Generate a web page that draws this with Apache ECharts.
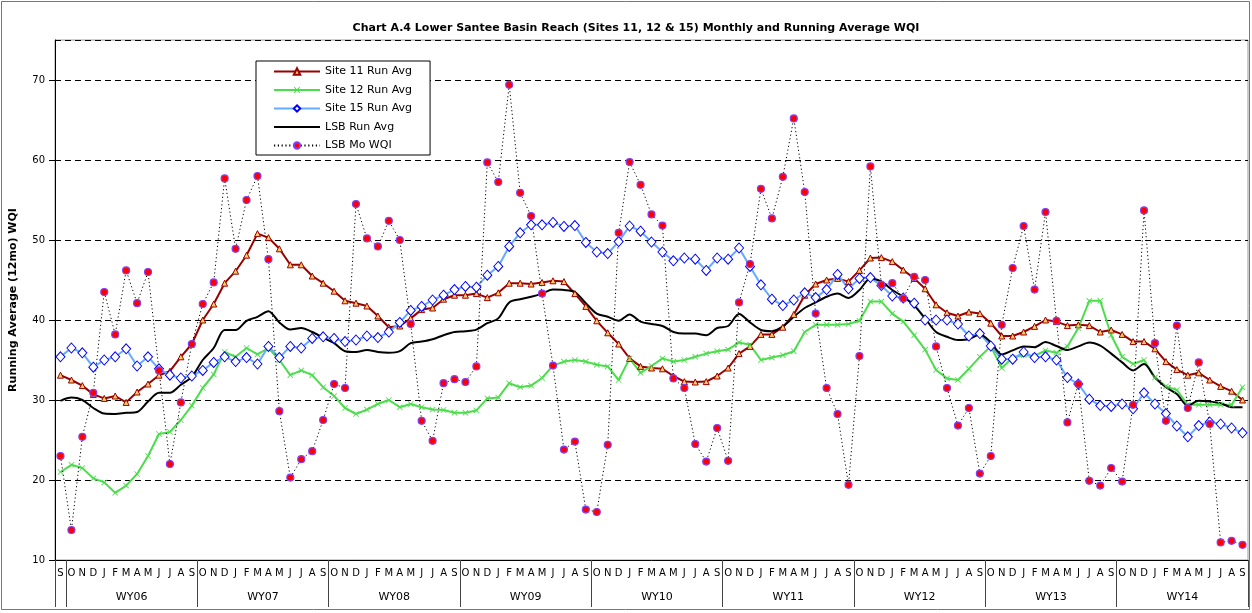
<!DOCTYPE html>
<html lang="en">
<head>
    <meta charset="UTF-8">
    <title>Chart A.4 Lower Santee Basin Reach</title>
    <style>
        html, body { margin: 0; padding: 0; background: #fff; }
        #container { width: 1252px; height: 613px; }
    </style>
</head>
<body>
    <div id="container"></div>
    <script src="https://cdnjs.cloudflare.com/ajax/libs/echarts/6.0.0/echarts.min.js"></script>
    <script>
        // month letters of a water year (Oct..Sep), and the year labels
        var monthLetters = ['O', 'N', 'D', 'J', 'F', 'M', 'A', 'M', 'J', 'J', 'A', 'S'];
        var waterYears = ['WY06', 'WY07', 'WY08', 'WY09', 'WY10', 'WY11', 'WY12', 'WY13', 'WY14'];

        // first category is Sep 2005, then 9 full water years
        var months = ['S'];
        waterYears.forEach(function () { months = months.concat(monthLetters); });

        var site11 = [33.1, 32.5, 31.8, 30.7, 30.2, 30.5, 29.7, 31.0, 32.0, 33.1, 33.6, 35.4, 37.0,
            40.0, 42.0, 44.6, 46.1, 48.1, 50.8, 50.3, 48.9, 46.9, 46.9, 45.5, 44.6,
            43.6, 42.4, 42.1, 41.75, 40.5, 39.1, 39.25, 40.2, 41.3, 41.5, 42.6, 43.1,
            43.1, 43.3, 42.8, 43.4, 44.6, 44.6, 44.5, 44.7, 44.9, 44.8, 43.3, 41.7,
            39.9, 38.4, 37.0, 35.2, 34.2, 34.0, 33.9, 33.0, 32.3, 32.25, 32.3, 33.0,
            34.0, 35.8, 36.7, 38.2, 38.2, 39.1, 40.7, 43.1, 44.5, 45.0, 45.2, 44.8,
            46.2, 47.75, 47.8, 47.3, 46.25, 45.2, 43.9, 41.9, 40.9, 40.5, 41.0, 40.8,
            39.6, 38.0, 38.0, 38.5, 39.2, 40.0, 39.8, 39.3, 39.4, 39.3, 38.5, 38.75,
            38.2, 37.3, 37.3, 36.4, 34.8, 33.8, 33.1, 33.4, 32.5, 31.7, 31.1, 30.0];

        var site12 = [21.0, 21.9, 21.5, 20.2, 19.7, 18.4, 19.3, 20.75, 23.0, 25.75, 26.0, 27.5, 29.3,
            31.5, 33.2, 36.0, 35.4, 36.5, 35.7, 36.5, 35.0, 33.1, 33.7, 33.1, 31.6,
            30.5, 29.0, 28.25, 28.8, 29.5, 30.0, 29.1, 29.5, 29.1, 28.8, 28.75, 28.4,
            28.4, 28.7, 30.2, 30.3, 32.1, 31.6, 31.8, 32.75, 34.3, 34.8, 35.0, 34.8,
            34.4, 34.2, 32.5, 35.2, 33.4, 34.25, 35.2, 34.8, 35.0, 35.4, 35.8, 36.1,
            36.3, 37.2, 36.9, 35.0, 35.3, 35.6, 36.1, 38.5, 39.4, 39.4, 39.4, 39.5,
            39.9, 42.3, 42.3, 40.8, 39.8, 38.1, 36.3, 33.75, 32.7, 32.5, 33.9, 35.4,
            36.7, 34.0, 35.3, 35.6, 35.5, 36.2, 35.9, 36.7, 39.0, 42.4, 42.4, 38.1,
            35.4, 34.5, 35.0, 32.8, 31.7, 31.25, 29.4, 29.4, 29.4, 29.4, 29.4, 31.6];

        var site15 = [35.4, 36.5, 35.9, 34.1, 35.0, 35.4, 36.4, 34.25, 35.4, 33.9, 33.1, 32.75, 33.0,
            33.7, 34.7, 35.4, 34.8, 35.3, 34.5, 36.7, 35.3, 36.7, 36.5, 37.7, 37.9,
            37.7, 37.3, 37.5, 38.0, 37.8, 38.5, 39.7, 41.2, 41.7, 42.5, 43.1, 43.8,
            44.2, 44.1, 45.6, 46.7, 49.2, 50.9, 51.9, 51.9, 52.2, 51.7, 51.8, 49.7,
            48.5, 48.3, 49.8, 51.75, 51.1, 49.75, 48.5, 47.4, 47.75, 47.6, 46.2, 47.75,
            47.6, 49.0, 46.7, 44.4, 42.6, 41.8, 42.5, 43.4, 42.8, 43.8, 45.7, 43.9,
            45.2, 45.3, 44.3, 43.0, 42.75, 42.1, 40.0, 40.0, 40.0, 39.5, 38.0, 38.3,
            36.75, 35.1, 35.1, 36.0, 35.3, 35.4, 35.0, 32.8, 32.0, 30.1, 29.3, 29.2,
            29.5, 28.9, 30.9, 29.5, 28.3, 26.75, 25.4, 26.8, 27.25, 27.0, 26.5, 25.9];

        var lsbRunAvg = [29.9, 30.3, 30.0, 29.0, 28.3, 28.25, 28.4, 28.5, 29.8, 30.9, 30.9, 31.9, 32.9,
            35.0, 36.5, 38.75, 38.75, 39.9, 40.4, 41.1, 39.7, 38.8, 39.0, 38.5, 37.8,
            37.1, 36.1, 36.0, 36.25, 36.0, 35.9, 36.1, 37.1, 37.3, 37.6, 38.1, 38.5,
            38.6, 38.8, 39.6, 40.2, 42.2, 42.6, 42.9, 43.3, 43.8, 43.75, 43.5, 42.1,
            40.8, 40.4, 39.9, 40.7, 39.8, 39.5, 39.25, 38.5, 38.3, 38.3, 38.1, 39.0,
            39.25, 40.75, 39.7, 38.75, 38.6, 39.2, 40.4, 41.5, 42.2, 42.9, 43.3, 42.75,
            43.75, 45.2, 44.8, 43.75, 42.9, 41.8, 40.2, 38.5, 37.9, 37.5, 37.6, 38.2,
            37.2, 35.7, 36.2, 36.7, 36.6, 37.25, 36.75, 36.25, 36.7, 37.2, 36.8, 35.8,
            34.7, 33.7, 34.5, 32.8, 31.6, 30.75, 29.3, 29.9, 29.8, 29.6, 29.1, 29.1];

        var lsbMoWqi = [23.0, 13.75, 25.4, 30.9, 43.5, 38.2, 46.2, 42.1, 46.0, 33.7, 22.0, 29.7, 37.0,
            42.0, 44.7, 57.7, 48.9, 55.0, 58.0, 47.6, 28.6, 20.3, 22.6, 23.6, 27.5,
            32.0, 31.5, 54.5, 50.2, 49.2, 52.4, 50.0, 39.5, 27.4, 24.9, 32.1, 32.6,
            32.25, 34.2, 59.7, 57.25, 69.4, 55.9, 53.0, 43.3, 34.3, 23.8, 24.8, 16.3,
            16.0, 24.4, 50.9, 59.75, 56.9, 53.2, 51.8, 32.7, 31.5, 24.5, 22.3, 26.5,
            22.4, 42.2, 47.0, 56.4, 52.7, 57.9, 65.2, 56.0, 40.8, 31.5, 28.25, 19.4,
            35.5, 59.2, 44.4, 44.6, 42.7, 45.4, 45.0, 36.7, 31.5, 26.8, 29.0, 20.8,
            23.0, 39.4, 46.5, 51.75, 43.8, 53.5, 39.9, 27.2, 32.0, 19.9, 19.3, 21.5,
            19.8, 29.4, 53.7, 37.1, 27.4, 39.3, 29.0, 34.7, 27.0, 12.2, 12.4, 11.9];

        var font = 'DejaVu Sans';
        var crossPath = 'path://M0,1L1,0L5,4L9,0L10,1L6,5L10,9L9,10L5,6L1,10L0,9L4,5Z';

        var ec = echarts.init(document.getElementById('container'));

        var option = {
            backgroundColor: '#fff',
            animation: false,
            title: {
                text: 'Chart A.4 Lower Santee Basin Reach (Sites 11, 12 & 15) Monthly and Running Average WQI',
                left: 631,
                textAlign: 'center',
                top: 18,
                textStyle: { fontFamily: font, fontSize: 11, fontWeight: 'bold', color: '#000' }
            },
            graphic: [{
                type: 'rect',
                shape: { x: 1.5, y: 1.5, width: 1248, height: 608 },
                style: { fill: 'none', stroke: '#777', lineWidth: 1 },
                silent: true
            }],
            legend: {
                orient: 'vertical',
                left: 256,
                top: 61,
                padding: [5, 18, 4, 17],
                itemWidth: 46,
                itemHeight: 8,
                itemGap: 7.5,
                borderColor: '#000',
                borderWidth: 1,
                backgroundColor: '#fff',
                textStyle: { fontFamily: font, fontSize: 11, color: '#000' },
                data: ['Site 11 Run Avg', 'Site 12 Run Avg', 'Site 15 Run Avg',
                    { name: 'LSB Run Avg', itemStyle: { opacity: 0 } }, 'LSB Mo WQI']
            },
            grid: {
                left: 54, right: 4, top: 40, bottom: 53,
                show: true, borderColor: '#999', borderWidth: 1
            },
            xAxis: [{
                type: 'category',
                data: months,
                boundaryGap: true,
                axisLine: { lineStyle: { color: '#000', width: 1 } },
                axisTick: {
                    show: true,
                    length: 47,
                    interval: function (idx) { return idx === 0 || (idx - 1) % 12 === 0; },
                    lineStyle: { color: '#444', width: 1 }
                },
                axisLabel: { interval: 0, margin: 8, fontFamily: font, fontSize: 10, color: '#000' },
                splitLine: { show: false }
            }, {
                type: 'value',
                min: 0,
                max: months.length,
                interval: 1,
                position: 'bottom',
                axisLine: { show: false },
                axisTick: { show: false },
                splitLine: { show: false },
                axisLabel: {
                    margin: 32,
                    fontFamily: font, fontSize: 11, color: '#000',
                    formatter: function (v) {
                        var k = (v - 7) / 12;
                        return (k >= 0 && k === Math.floor(k) && k < waterYears.length) ? waterYears[k] : '';
                    }
                }
            }],
            yAxis: {
                type: 'value',
                min: 10,
                max: 75,
                interval: 10,
                name: 'Running Average (12mo) WQI',
                nameLocation: 'middle',
                nameGap: 36,
                nameTextStyle: { fontFamily: font, fontSize: 11, fontWeight: 'bold', color: '#000' },
                axisLine: { show: true, lineStyle: { color: '#000', width: 1 } },
                axisTick: { show: true, length: 6, lineStyle: { color: '#000' } },
                axisLabel: { margin: 10, showMaxLabel: false, fontFamily: font, fontSize: 10, color: '#000' },
                splitLine: { lineStyle: { color: '#000', type: [6, 4], width: 1 } }
            },
            series: [{
                name: 'Site 11 Run Avg',
                type: 'line',
                data: site11,
                symbol: 'triangle',
                symbolSize: 6,
                showAllSymbol: true,
                lineStyle: { color: '#990000', width: 2 },
                itemStyle: { color: '#ffcc66', borderColor: '#990000', borderWidth: 1 }
            }, {
                name: 'Site 12 Run Avg',
                type: 'line',
                data: site12,
                symbol: crossPath,
                symbolSize: 6,
                showAllSymbol: true,
                lineStyle: { color: '#4cdd4c', width: 2 },
                itemStyle: { color: '#4cdd4c', borderWidth: 0 }
            }, {
                name: 'Site 15 Run Avg',
                type: 'line',
                data: site15,
                symbol: 'diamond',
                symbolSize: [9, 10],
                showAllSymbol: true,
                lineStyle: { color: '#66aaff', width: 2 },
                itemStyle: { color: '#fff', borderColor: '#0000ff', borderWidth: 1 }
            }, {
                name: 'LSB Run Avg',
                type: 'line',
                data: lsbRunAvg,
                symbol: 'none',
                smooth: 0.3,
                lineStyle: { color: '#000', width: 2 },
                itemStyle: { color: '#000' }
            }, {
                name: 'LSB Mo WQI',
                type: 'line',
                data: lsbMoWqi,
                symbol: 'circle',
                symbolSize: 7,
                showAllSymbol: true,
                lineStyle: { color: '#000', width: 1, type: [1.2, 2.6] },
                itemStyle: { color: '#ff0000', borderColor: '#8040ff', borderWidth: 1.2 }
            }]
        };

        ec.setOption(option);
    </script>
</body>
</html>
